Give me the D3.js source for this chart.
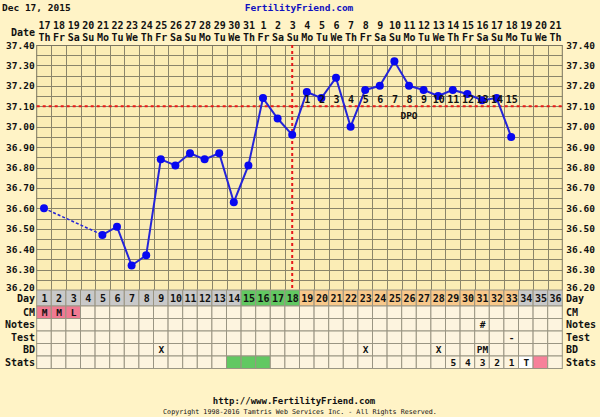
<!DOCTYPE html>
<html><head><meta charset="utf-8">
<script src="https://cdn.jsdelivr.net/npm/d3@7/dist/d3.min.js"></script>
<style>
html,body{margin:0;padding:0;background:#fff3c6;}
svg{display:block;}
text{font-family:"DejaVu Sans Mono",monospace;font-weight:bold;fill:#111;}
</style></head><body>
<svg id="c" width="600" height="417"></svg>
<script>
const days = [1,2,3,4,5,6,7,8,9,10,11,12,13,14,15,16,17,18,19,20,21,22,23,24,25,26,27,28,29,30,31,32,33,34,35,36];
const dates = ["17","18","19","20","21","22","23","24","25","26","27","28","29","30","31","1","2","3","4","5","6","7","8","9","10","11","12","13","14","15","16","17","18","19","20","21"];
const weekdays = ["Th","Fr","Sa","Su","Mo","Tu","We","Th","Fr","Sa","Su","Mo","Tu","We","Th","Fr","Sa","Su","Mo","Tu","We","Th","Fr","Sa","Su","Mo","Tu","We","Th","Fr","Sa","Su","Mo","Tu","We","Th"];
const temps = [36.60,null,null,null,36.47,36.51,36.32,36.37,36.84,36.81,36.87,36.84,36.87,36.63,36.81,37.14,37.04,36.96,37.17,37.14,37.24,37.00,37.18,37.20,37.32,37.20,37.18,37.15,37.18,37.16,37.13,37.14,36.95,null,null,null];
const yTicks = [36.20,36.30,36.40,36.50,36.60,36.70,36.80,36.90,37.00,37.10,37.20,37.30,37.40];
const coverline = 37.10;
const ovulationDay = 18;
const dpoDays = [19,20,21,22,23,24,25,26,27,28,29,30,31,32,33];
const dpoLabels = ["1","2","3","4","5","6","7","8","9","10","11","12","13","14","15"];
// day row phase: g=gray, G=green, O=orange
const dayPhase = ["g","g","g","g","g","g","g","g","g","g","g","g","g","g","G","G","G","G","O","O","O","O","O","O","O","O","O","O","O","O","O","O","O","g","g","g"];
const cmRow = {1:"M",2:"M",3:"L"};
const notesRow = {31:"#"};
const testRow = {33:"-"};
const bdRow = {9:"X",23:"X",28:"X",31:"PM"};
const statsRow = {29:"5",30:"4",31:"3",32:"2",33:"1",34:"T"};
const statsGreen = [14,15,16];
const statsPink = [35];
const rowLabels = ["CM","Notes","Test","BD","Stats"];

const svg = d3.select("#c");
const L = 36.7, R = 562.3, T = 45, B = 290;
const x = d3.scaleBand().domain(days).range([L, R]);
const y = d3.scaleLinear().domain([36.2, 37.4]).range([B, T]);
const cx = d => x(d) + x.bandwidth()/2;

// header
svg.append("text").attr("x",2).attr("y",11).attr("font-size","9.5px").text("Dec 17, 2015");
svg.append("text").attr("x",299).attr("y",11).attr("text-anchor","middle").attr("font-size","9.5px").style("fill","#1010c0").text("FertilityFriend.com");
svg.append("text").attr("x",35).attr("y",36).attr("text-anchor","end").attr("font-size","10px").text("Date");
const hdr = svg.append("g");
hdr.selectAll("text.d").data(days).join("text").attr("x",d=>cx(d)+0.5).attr("y",29)
  .attr("text-anchor","middle").attr("font-size","10px").text((d,i)=>dates[i]);
hdr.selectAll("text.w").data(days).join("text").attr("x",d=>cx(d)+0.5).attr("y",40.5)
  .attr("text-anchor","middle").attr("font-size","10px").text((d,i)=>weekdays[i]);

// plot background
svg.append("rect").attr("x",L).attr("y",T).attr("width",R-L).attr("height",B-T).attr("fill","#fbedb5");
const grid = svg.append("g").attr("stroke","#8a856a").attr("stroke-width",1);
grid.selectAll("line.h").data(y.ticks(24)).join("line")
  .attr("x1",L).attr("x2",R).attr("y1",d=>Math.round(y(d))+0.5).attr("y2",d=>Math.round(y(d))+0.5);
grid.selectAll("line.v").data(days.slice(1)).join("line")
  .attr("y1",T).attr("y2",B).attr("x1",d=>Math.round(x(d))+0.5).attr("x2",d=>Math.round(x(d))+0.5);
svg.append("rect").attr("x",L).attr("y",T+0.5).attr("width",R-L).attr("height",B-T).attr("fill","none").attr("stroke","#7a7560");

// y axes labels
const fmt = d3.format(".2f");
const axL = d3.axisLeft(y).tickValues(yTicks).tickFormat(fmt).tickSize(0).tickPadding(2);
const gL = svg.append("g").attr("transform",`translate(${L},0)`).call(axL);
const axR = d3.axisRight(y).tickValues(yTicks).tickFormat(fmt).tickSize(0).tickPadding(4);
const gR = svg.append("g").attr("transform",`translate(${R},0)`).call(axR);
[gL,gR].forEach(g=>{g.select(".domain").remove();g.selectAll("text").attr("font-size","9.5px").style("font-family","DejaVu Sans Mono").style("font-weight","bold").attr("fill","#111");});
gL.selectAll(".tick").filter(d=>d===36.2).select("text").attr("dy","0.1em");
gR.selectAll(".tick").filter(d=>d===36.2).select("text").attr("dy","0.1em");

// coverline & ovulation
svg.append("line").attr("x1",L).attr("x2",R).attr("y1",y(coverline)).attr("y2",y(coverline))
  .attr("stroke","#e81818").attr("stroke-width",2).attr("stroke-dasharray","3,3");
svg.append("line").attr("x1",cx(ovulationDay)).attr("x2",cx(ovulationDay)).attr("y1",T).attr("y2",B)
  .attr("stroke","#e81818").attr("stroke-width",2).attr("stroke-dasharray","3,3");

// temperature line
const pts = days.map((d,i)=>({d, t:temps[i]}));
const line = d3.line().defined(p=>p.t!==null).x(p=>cx(p.d)).y(p=>y(p.t));
svg.append("path").datum(pts).attr("d",line).attr("fill","none").attr("stroke","#2424d8").attr("stroke-width",2);
const defined = pts.filter(p=>p.t!==null);
const gaps = [];
for (let i=1;i<defined.length;i++){ if (defined[i].d - defined[i-1].d > 1) gaps.push([defined[i-1],defined[i]]); }
svg.selectAll("line.gap").data(gaps).join("line")
  .attr("x1",g=>cx(g[0].d)).attr("y1",g=>y(g[0].t)).attr("x2",g=>cx(g[1].d)).attr("y2",g=>y(g[1].t))
  .attr("stroke","#2424d8").attr("stroke-width",1.5).attr("stroke-dasharray","3,2");
svg.selectAll("circle.pt").data(defined).join("circle")
  .attr("cx",p=>cx(p.d)).attr("cy",p=>y(p.t)).attr("r",4).attr("fill","#0808f0");

// DPO labels
svg.selectAll("text.dpo").data(dpoDays).join("text").attr("x",d=>cx(d)+0.5).attr("y",y(coverline)-3)
  .attr("text-anchor","middle").attr("font-size","10px").text((d,i)=>dpoLabels[i]);
svg.append("text").attr("x",cx(26)).attr("y",y(coverline)+13).attr("text-anchor","middle").attr("font-size","9.5px").text("DPO");

// table
const rowY = [290,306,318.5,331,343.5,356,368.5];
const phaseColor = {g:"#c9c9c9",G:"#62c862",O:"#f8c88a"};
const tbl = svg.append("g");
tbl.selectAll("rect.day").data(days).join("rect")
  .attr("x",d=>x(d)).attr("y",rowY[0]).attr("width",x.bandwidth()).attr("height",rowY[1]-rowY[0])
  .attr("fill",(d,i)=>phaseColor[dayPhase[i]]).attr("stroke","#9a9583").attr("stroke-width",1);
tbl.selectAll("text.day").data(days).join("text").attr("x",d=>cx(d)+0.5).attr("y",rowY[0]+12)
  .attr("text-anchor","middle").attr("font-size","10px").text(d=>d);
const rows = [cmRow,notesRow,testRow,bdRow,statsRow];
rows.forEach((row,ri)=>{
  const y0 = rowY[ri+1], h = rowY[ri+2]-rowY[ri+1];
  tbl.append("g").selectAll("rect").data(days).join("rect")
    .attr("x",d=>x(d)).attr("y",y0).attr("width",x.bandwidth()).attr("height",h)
    .attr("fill",d=>{
      if (ri===0 && row[d]) return "#f07a92";
      if (ri===4 && statsGreen.includes(d)) return "#62c862";
      if (ri===4 && statsPink.includes(d)) return "#f7819a";
      if (ri===4 && row[d]==="T") return "#ffffff";
      return "#fdf4df";
    })
    .attr("stroke","#9a9583").attr("stroke-width",1);
  tbl.append("g").selectAll("text").data(days.filter(d=>row[d])).join("text")
    .attr("x",d=>cx(d)+0.5).attr("y",y0+h/2+3.5).attr("text-anchor","middle").attr("font-size","9.5px").text(d=>row[d]);
});
const labAll = ["Day"].concat(rowLabels);
labAll.forEach((lab,i)=>{
  const ym = (rowY[i]+rowY[i+1])/2 + 3.5;
  svg.append("text").attr("x",35).attr("y",ym).attr("text-anchor","end").attr("font-size","10px").text(lab);
  svg.append("text").attr("x",566).attr("y",ym).attr("font-size","10px").text(lab);
});

// footer
svg.append("text").attr("x",294).attr("y",404).attr("text-anchor","middle").attr("font-size","9px").text("http://www.FertilityFriend.com");
svg.append("text").attr("x",300).attr("y",414).attr("text-anchor","middle").attr("font-size","6.7px").style("font-weight","normal").text("Copyright 1998-2016 Tamtris Web Services Inc. - All Rights Reserved.");
</script></body></html>
